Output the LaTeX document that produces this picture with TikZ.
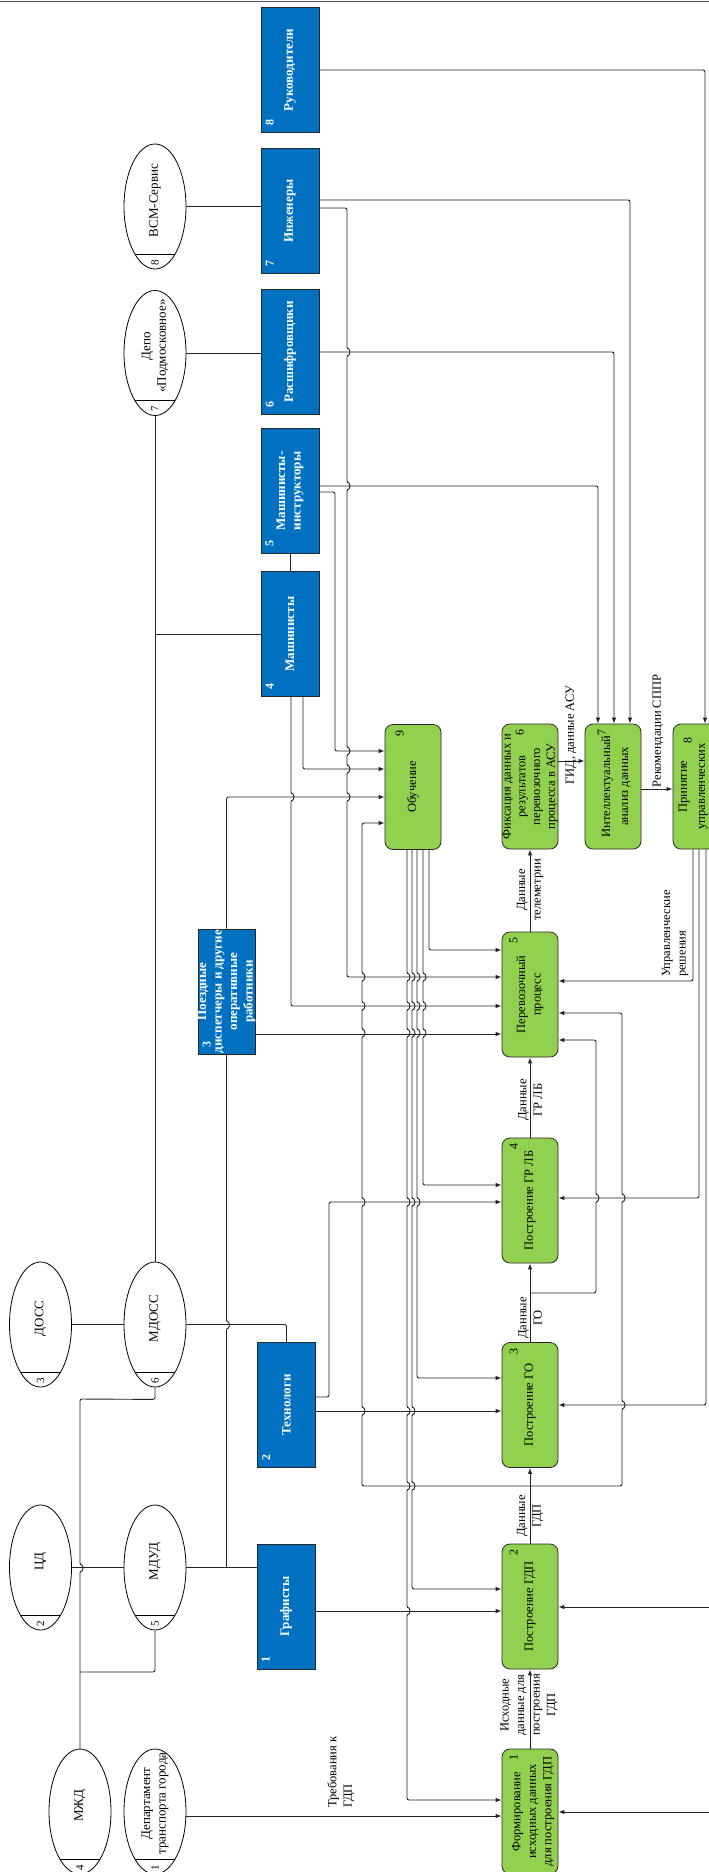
\documentclass[tikz,border=0pt]{standalone}
\usepackage{fontspec}
\setmainfont{Liberation Serif}
\usepackage{tikz}
\usetikzlibrary{arrows.meta,shapes.geometric}
\definecolor{fsedge}{RGB}{40,40,40}
\definecolor{fsblue}{RGB}{0,112,192}
\definecolor{fsgreen}{RGB}{146,208,80}
\definecolor{fsline}{RGB}{35,35,35}
\definecolor{fstop}{RGB}{68,84,106}
% line hops over crossing wires (down / up)
\newcommand\hopd[2]{-- (#1,#2-3) arc[start angle=90,end angle=-90,radius=3pt]}
\newcommand\hopu[2]{-- (#1,#2+3) arc[start angle=-90,end angle=90,radius=3pt]}
\tikzset{
  rolebox/.style={
    draw=fsedge, fill=fsblue, line width=0.8pt,
    minimum width=58pt, minimum height=125pt, inner sep=0pt
  },
  roletxt/.style={rotate=90, text=white, align=center, font=\fontsize{13}{15.5}\selectfont\bfseries},
  rolenum/.style={rotate=90, text=white, inner sep=0pt, font=\fontsize{12}{14}\selectfont\bfseries},
  procbox/.style={
    draw=fsedge, fill=fsgreen, line width=0.8pt, rounded corners=8pt,
    minimum width=56pt, minimum height=125pt, inner sep=0pt
  },
  proctxt/.style={rotate=90, align=center, font=\fontsize{12.5}{15.5}\selectfont},
  procnum/.style={rotate=90, inner sep=0pt, font=\fontsize{12}{14}\selectfont},
  orgbox/.style={
    ellipse, draw=black, line width=0.8pt,
    minimum width=62pt, minimum height=125pt, inner sep=0pt,
    path picture={\draw[line width=0.8pt]
      ([yshift=15pt]path picture bounding box.south west) --
      ([yshift=15pt]path picture bounding box.south east);}
  },
  orgtxt/.style={rotate=90, align=center, font=\fontsize{13}{15.5}\selectfont},
  orgnum/.style={rotate=90, inner sep=0pt, font=\fontsize{11}{13}\selectfont},
  lbl/.style={rotate=90, align=center, inner sep=0pt, font=\fontsize{12.5}{15.5}\selectfont},
  link/.style={draw=fsline, line width=0.9pt, rounded corners=2pt},
  arr/.style={link, -{Latex[length=6pt,width=4.5pt]}}
}

\begin{document}
\begin{tikzpicture}[x=1pt, y=-1pt]
  \useasboundingbox (0,0) rectangle (709,1872);
  \clip (0,0) rectangle (709,1872);
  \draw[fstop, line width=1.6pt] (0,1.5) -- (709,1.5);

  % roles
  \node[rolebox] (r8) at (290,70) {};
  \node[rolebox] (r7) at (290,211) {};
  \node[rolebox] (r6) at (290,352) {};
  \node[rolebox] (r5) at (290,491) {};
  \node[rolebox] (r4) at (290,634) {};
  \node[rolebox, minimum width=57pt] (r3) at (226.5,991.5) {};
  \node[rolebox] (r2) at (286.5,1405) {};
  \node[rolebox] (r1) at (286,1606.5) {};
  \node[roletxt] (r8-t) at (r8) {Руководители};
  \node[roletxt] (r7-t) at (r7) {Инженеры};
  \node[roletxt] (r6-t) at (r6) {Расшифровщики};
  \node[roletxt] (r5-t) at (r5) {Машинисты-\\инструкторы};
  \node[roletxt] (r4-t) at (r4) {Машинисты};
  \node[roletxt] (r3-t) at (r3) {Поездные\\диспетчеры и другие\\оперативные\\работники};
  \node[roletxt] (r2-t) at (r2) {Технологи};
  \node[roletxt] (r1-t) at (r1) {Графисты};
  \foreach \n in {1,...,8}
    \node[rolenum] (r\n-n) at ([xshift=9pt,yshift=10pt]r\n.south west) {\n};

  % organisations
  \node[orgbox] (e8) at (155,206.5) {};
  \node[orgbox] (e7) at (155,353) {};
  \node[orgbox] (e6) at (155,1324.5) {};
  \node[orgbox] (e3) at (40.5,1324.5) {};
  \node[orgbox] (e5) at (155,1567.5) {};
  \node[orgbox] (e2) at (40.5,1567.5) {};
  \node[orgbox] (e4) at (80,1811.5) {};
  \node[orgbox] (e1) at (155,1811.5) {};
  \node[orgtxt] (e8-t) at ([yshift=6pt]e8.center) {ВСМ-Сервис};
  \node[orgtxt] (e7-t) at ([yshift=7pt]e7.center) {Депо\\«Подмосковное»};
  \node[orgtxt] (e6-t) at ([yshift=6pt]e6.center) {МДОСС};
  \node[orgtxt] (e3-t) at ([yshift=6pt]e3.center) {ДОСС};
  \node[orgtxt] (e5-t) at ([yshift=6pt]e5.center) {МДУД};
  \node[orgtxt] (e2-t) at ([yshift=6pt]e2.center) {ЦД};
  \node[orgtxt] (e4-t) at ([yshift=6pt]e4.center) {МЖД};
  \node[orgtxt] (e1-t) at ([yshift=8pt]e1.center) {Департамент\\транспорта города};
  \foreach \n in {1,...,8}
    \node[orgnum] (e\n-n) at ([yshift=7pt]e\n.south) {\n};

  % processes
  \node[procbox] (p1) at (530,1811.5) {};
  \node[procbox] (p2) at (530,1606.5) {};
  \node[procbox] (p3) at (530,1405) {};
  \node[procbox] (p4) at (530,1200.5) {};
  \node[procbox] (p5) at (530,994.5) {};
  \node[procbox] (p6) at (530,786.5) {};
  \node[procbox] (p7) at (613,786.5) {};
  \node[procbox] (p8) at (701,786.5) {};
  \node[procbox] (p9) at (413,787) {};
  \node[proctxt] (p1-t) at ([xshift=3pt]p1.center) {Формирование\\исходных данных\\для построения ГДП};
  \node[proctxt] (p2-t) at (p2) {Построение ГДП};
  \node[proctxt] (p3-t) at (p3) {Построение ГО};
  \node[proctxt] (p4-t) at (p4) {Построение ГР ЛБ};
  \node[proctxt] (p5-t) at (p5) {Перевозочный\\процесс};
  \node[proctxt, font=\fontsize{12.5}{14.7}\selectfont] (p6-t) at (p6) {Фиксация данных и\\результатов\\перевозочного\\процесса в АСУ};
  \node[proctxt, font=\fontsize{12.5}{18}\selectfont] (p7-t) at ([xshift=3pt]p7.center) {Интеллектуальный\\анализ данных};
  \node[proctxt, font=\fontsize{12.5}{18}\selectfont] (p8-t) at ([xshift=-8pt]p8.center) {Принятие\\управленческих};
  \node[proctxt] (p9-t) at (p9) {Обучение};
  \foreach \n in {1,...,5}
    \node[procnum] (p\n-n) at ([xshift=12pt,yshift=-9pt]p\n.north west) {\n};
  \node[procnum] (p6-n) at ([xshift=18pt,yshift=-9pt]p6.north west) {6};
  \node[procnum] (p7-n) at ([xshift=17pt,yshift=-9pt]p7.north west) {7};
  \node[procnum] (p8-n) at ([xshift=15pt,yshift=-17pt]p8.north west) {8};
  \node[procnum] (p9-n) at ([xshift=15pt,yshift=-9pt]p9.north west) {9};

  % organisation links
  \draw[link] (e8) -- (r7.west |- e8);
  \draw[link] (e7) -- (r6.west |- e7);
  \draw[link] (e7) -- (e6);
  \draw[link] (e7.south |- r4) -- (r4);
  \draw[link] (e3) -- (e6);
  \draw[link] (e2) -- (e5);
  \draw[link] (e6) -| (r2);
  \draw[link] (e5) -- (r1.west |- e5);
  \draw[link] (e6.south) -- ++(0,12) -- (e4.north |- 0,1399) \hopd{80}{1568} -- (e4.north);
  \draw[link] (e5.south) |- (e4.north |- 0,1672);
  \draw[link] (r3.south) \hopd{226.5}{1325} -- (r3.south |- e5);
  \draw[link] (r5) -- (r4);

  % roles to processes
  \draw[arr] (r8) -| (p8.north -| 705,0);
  \draw[arr] (r7.east |- 0,200) -| (p7.north -| 630,0);
  \draw[arr] (r7.east |- 0,208) -- (347,208) \hopd{347}{352} \hopd{347}{486}
    \hopd{347}{751} \hopd{347}{769} \hopd{347}{797} |- (p5.west |- 0,977);
  \draw[arr] (r6) -| (p7.north -| 614,0);
  \draw[arr] (r5.east |- 0,486) -| (p7.north -| 598,0);
  \draw[arr] (r5.east |- 0,492) -| (335,751) -- (p9.west |- 0,751);
  \draw[arr] (r4.south -| 303,0) |- (p9.west |- 0,769);
  \draw[arr] (r4.south -| 291,0) \hopd{291}{797} |- (p5.west |- 0,1006);
  \draw[arr] (r3) |- (p9.west |- 0,797);
  \draw[arr] (r3.east |- 0,1034) -- (p5.west |- 0,1034);
  \draw[arr] (r2.east |- 0,1397) -| (329,1202) -- (p4.west |- 0,1202);
  \draw[arr] (r2.east |- 0,1411) -- (p3.west |- 0,1411);
  \draw[arr] (r1.east |- 0,1611) -- (p2.west |- 0,1611);
  \draw[arr] (e1.east |- 0,1816) -- (p1.west |- 0,1816);

  % training feeds every stage
  \draw[arr] (p9.south -| 429,0) |- (p5.west |- 0,950);
  \draw[arr] (p9.south -| 423,0) \hopd{423}{977} \hopd{423}{1006} \hopd{423}{1033}
    |- (p4.west |- 0,1185);
  \draw[arr] (p9.south -| 417,0) \hopd{417}{977} \hopd{417}{1006} \hopd{417}{1033}
    \hopd{417}{1202} |- (p3.west |- 0,1378);
  \draw[arr] (p9.south -| 412,0) \hopd{412}{977} \hopd{412}{1006} \hopd{412}{1033}
    \hopd{412}{1202} \hopd{412}{1411} \hopd{412}{1486} |- (p2.west |- 0,1589);
  \draw[arr] (p9.south -| 407,0) \hopd{407}{977} \hopd{407}{1006} \hopd{407}{1033}
    \hopd{407}{1202} \hopd{407}{1411} \hopd{407}{1486} \hopd{407}{1611} |- (p1.west |- 0,1800);

  % process chain
  \foreach \p/\q in {p1/p2,p2/p3,p3/p4,p4/p5,p5/p6} \draw[arr] (\p) -- (\q);
  \draw[arr] (p6.east |- 0,761) -- (p7.west |- 0,761);
  \draw[arr] (p7.east |- 0,789) -- (p8.west |- 0,789);
  \draw[arr] (p2.north |- 0,1486) -- (622,1486) \hopu{622}{1405} \hopu{622}{1198} |- (p5.east |- 0,1013);
  \draw[arr] (p2.north |- 0,1486) -- (362,1486) \hopu{362}{1411} \hopu{362}{1202}
    \hopu{362}{1033} \hopu{362}{1006} \hopu{362}{977} |- (p9.west |- 0,823);
  \draw[arr] (p3.north |- 0,1293) -- (596,1293) \hopu{596}{1198} |- (p5.east |- 0,1040);

  % decisions back to the stages
  \draw[arr] (p8.south -| 693,0) |- (p5.east |- 0,981);
  \draw[arr] (p8.south -| 699,0) |- (p4.east |- 0,1198);
  \draw[arr] (p8.south -| 706,0) |- (p3.east |- 0,1405);
  \coordinate (in2) at (720,1607);
  \coordinate (in1) at (720,1812);
  \draw[arr] (in2) -- (p2.east |- in2);
  \draw[arr] (in1) -- (p1.east |- in1);

  % flow labels
  \node[lbl] (l12) at (529,1705) {Исходные\\данные для\\построения\\ГДП};
  \node[lbl] (l23) at (530,1516) {Данные\\ГДП};
  \node[lbl] (l34) at (530,1318) {Данные\\ГО};
  \node[lbl] (l45) at (530,1100) {Данные\\ГР ЛБ};
  \node[lbl] (l56) at (530,890) {Данные\\телеметрии};
  \node[lbl] (l67) at (571,735) {ГИД, данные АСУ};
  \node[lbl] (l78) at (658,731) {Рекомендации СППР};
  \node[lbl, anchor=west, align=left] (l85) at (675,977) {Управленческие\\решения};
  \node[lbl, anchor=west, align=left] (lreq) at (341,1808) {Требования к\\ГДП};
\end{tikzpicture}
\end{document}
